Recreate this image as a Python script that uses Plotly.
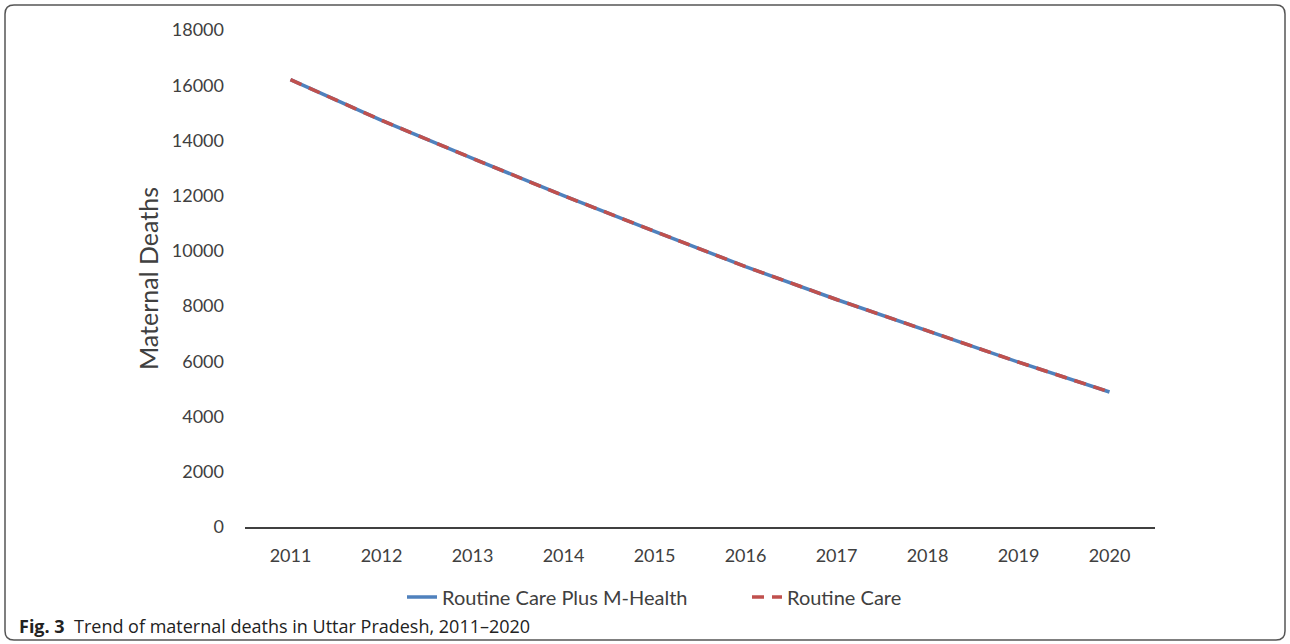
import plotly.graph_objects as go

years = ["2011", "2012", "2013", "2014", "2015", "2016", "2017", "2018", "2019", "2020"]
mhealth = [16200, 14730, 13350, 12000, 10710, 9430, 8240, 7100, 5970, 4890]
routine = [16200, 14730, 13350, 12000, 10710, 9430, 8240, 7100, 5970, 4890]
y_ticks = [0, 2000, 4000, 6000, 8000, 10000, 12000, 14000, 16000, 18000]

W, H = 1290, 644
L, R, T, B = 245, 1155, 30, 527

def px(x):
    return (x - L) / (R - L)

def py(y):
    return (B - y) / (B - T)

fig = go.Figure()
fig.add_trace(go.Scatter(x=years, y=mhealth, mode="lines", name="Routine Care Plus M-Health",
                         line=dict(color="#4F81BD", width=3.5)))
fig.add_trace(go.Scatter(x=years, y=routine, mode="lines", name="Routine Care",
                         line=dict(color="#C0504D", width=3.5, dash="12px,8px")))

font_family = "Lato, 'Open Sans', sans-serif"

fig.update_layout(
    width=W, height=H,
    margin=dict(l=L, r=W - R, t=T, b=H - B),
    paper_bgcolor="white", plot_bgcolor="white",
    font=dict(family=font_family, size=18, color="#404040"),
    showlegend=True,
    legend=dict(orientation="h", x=px(402), y=py(597), xanchor="left", yanchor="middle",
                entrywidth=300, entrywidthmode="pixels",
                font=dict(size=20, color="#404040"), bgcolor="rgba(0,0,0,0)"),
    xaxis=dict(type="category", range=[-0.5, 9.5], showgrid=False, showline=True,
               linecolor="#404040", linewidth=1.5,
               ticks="", tickfont=dict(size=18, color="#404040"), ticklabelstandoff=12,
               zeroline=False),
    yaxis=dict(range=[0, 18000], tickvals=y_ticks, tickformat="d", showgrid=False, showline=False,
               zeroline=False, ticks="", tickfont=dict(size=18, color="#404040"), ticklabelstandoff=20,
               title=dict(text="Maternal Deaths", font=dict(size=25, color="#404040"), standoff=6)),
)

# rounded border around whole figure
x0, x1, y0, y1, r = 5, 1285, 5, 640, 9
path = (f"M {px(x0 + r)},{py(y0)} L {px(x1 - r)},{py(y0)} Q {px(x1)},{py(y0)} {px(x1)},{py(y0 + r)} "
        f"L {px(x1)},{py(y1 - r)} Q {px(x1)},{py(y1)} {px(x1 - r)},{py(y1)} "
        f"L {px(x0 + r)},{py(y1)} Q {px(x0)},{py(y1)} {px(x0)},{py(y1 - r)} "
        f"L {px(x0)},{py(y0 + r)} Q {px(x0)},{py(y0)} {px(x0 + r)},{py(y0)} Z")
fig.add_shape(type="path", path=path, xref="paper", yref="paper",
              line=dict(color="#555555", width=1.5), layer="above")

fig.add_annotation(x=px(17), y=py(626), xref="paper", yref="paper", xanchor="left", yanchor="middle",
                   showarrow=False,
                   text="<b>Fig. 3</b>  Trend of maternal deaths in Uttar Pradesh, 2011–2020",
                   font=dict(family="'Open Sans', sans-serif", size=18, color="#222222"))

fig.write_html("out.html")
